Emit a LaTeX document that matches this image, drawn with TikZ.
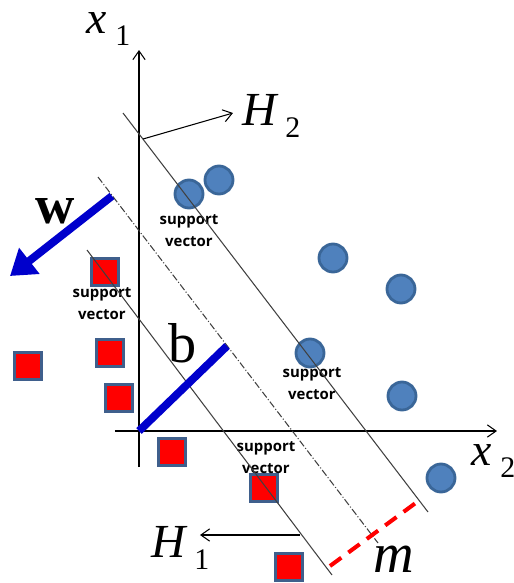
\documentclass[tikz,border=0pt]{standalone}
\usepackage{fontspec}
\setmainfont{Liberation Serif}
\newfontfamily\svfont{Open Sans}
\usepackage{xcolor}
\usepackage{tikz}
\usetikzlibrary{arrows.meta, positioning, calc}

\definecolor{ptblue}{HTML}{4F81BD}
\definecolor{ptedge}{HTML}{3A6698}
\definecolor{sqedge}{HTML}{3F5F8C}
\definecolor{wblue}{HTML}{0000CC}
\newcommand{\sublbl}[2]{{\itshape #1}\hspace{5pt}\raisebox{-7pt}{\fontsize{17}{17}\selectfont #2}}

\begin{document}
\begin{tikzpicture}[
    x=0.02cm, y=-0.02cm,
    posdot/.style={circle, draw=ptedge, fill=ptblue, line width=1.6pt, minimum size=0.56cm, inner sep=0pt},
    negsq/.style={rectangle, draw=sqedge, fill=red, line width=1.6pt, minimum size=0.54cm, inner sep=0pt},
    sv/.style={align=center, font=\svfont\bfseries\fontsize{8.5}{12.5}\selectfont, inner sep=0pt},
    lbl/.style={anchor=base west, inner sep=0pt, text height=13pt, font=\fontsize{26}{26}\selectfont},
    thin arr/.style={-{Straight Barb[length=5pt,width=7pt]}, line width=0.6pt},
    plane/.style={line width=0.6pt, black!75},
]
\useasboundingbox (0,0) rectangle (514,583);

\node[posdot] (p1) at (189,194) {};
\node[posdot] (p2) at (219,180) {};
\node[posdot] (p3) at (333,258) {};
\node[posdot] (p4) at (401,289) {};
\node[posdot] (p5) at (310,353) {};
\node[posdot] (p6) at (402,396) {};
\node[posdot] (p7) at (441,478) {};

\node[negsq] (n1) at (105,272) {};
\node[negsq] (n2) at (28,366) {};
\node[negsq] (n3) at (110,353) {};
\node[negsq] (n4) at (119,398) {};
\node[negsq] (n5) at (172,452) {};
\node[negsq] (n6) at (264,488) {};
\node[negsq] (n7) at (289,567) {};

\node[sv] (sv1) at (189,231) {support\\vector};
\node[sv] (sv2) at (102,304) {support\\vector};
\node[sv] (sv3) at (312,384) {support\\vector};
\node[sv] (sv4) at (266,458) {support\\vector};

\coordinate (origin) at (139,431);
\coordinate (x1end) at (139,50);
\coordinate (x1start) at (139,467);
\coordinate (x2start) at (115,431);
\coordinate (x2end) at (497,431);
\coordinate (h2top) at (123,113);
\coordinate (h2bot) at (428,512);
\coordinate (midtop) at (98,177);
\coordinate (midbot) at (378,543);
\coordinate (h1top) at (87,250);
\coordinate (h1bot) at (332,575);
\coordinate (h2foot) at (143,139);
\coordinate (h2tip) at (233,113);
\coordinate (h1foot) at (300,535);
\coordinate (h1tip) at (200,535);
\coordinate (bend) at (227,346);
\coordinate (wstart) at (112,196);
\coordinate (wtip) at (10,276);
\coordinate (mstart) at (330,566);
\coordinate (mend) at (417,502);

\node[lbl] (x1) at (86,33) {\sublbl{x}{1}};
\node[lbl] (x2) at (471,465) {\sublbl{x}{2}};
\node[lbl, text height=19pt, font=\fontsize{27}{27}\selectfont] (H2) at (242,125) {\sublbl{H}{2}};
\node[lbl, text height=19pt, font=\fontsize{27}{27}\selectfont] (H1) at (151,557) {\sublbl{H}{1}};
\node[anchor=base, inner sep=0pt, font=\fontsize{32}{32}\selectfont] (b) at (183,362) {b};
\node[anchor=base, inner sep=0pt, font=\bfseries\fontsize{31}{31}\selectfont] (w) at (55,223) {w};
\node[anchor=base, inner sep=0pt, font=\itshape\fontsize{32}{32}\selectfont] (m) at (394,572) {m};

\draw[thin arr] (x1start) -- (x1end);
\draw[thin arr] (x2start) -- (x2end);
\draw[plane] (h2top) -- (h2bot);
\draw[plane] (h1top) -- (h1bot);
\draw[plane, dash pattern=on 4pt off 1.2pt on 0.6pt off 1.2pt] (midtop) -- (midbot);
\draw[thin arr] (h2foot) -- (h2tip);
\draw[thin arr] (h1foot) -- (h1tip);
\draw[wblue, line width=4.5pt] (origin) -- (bend);
\draw[wblue, line width=4.5pt, -{Triangle[length=14pt,width=18pt]}] (wstart) -- (wtip);
\draw[red, line width=2.3pt, dash pattern=on 8pt off 5pt] (mstart) -- (mend);
\end{tikzpicture}
\end{document}
